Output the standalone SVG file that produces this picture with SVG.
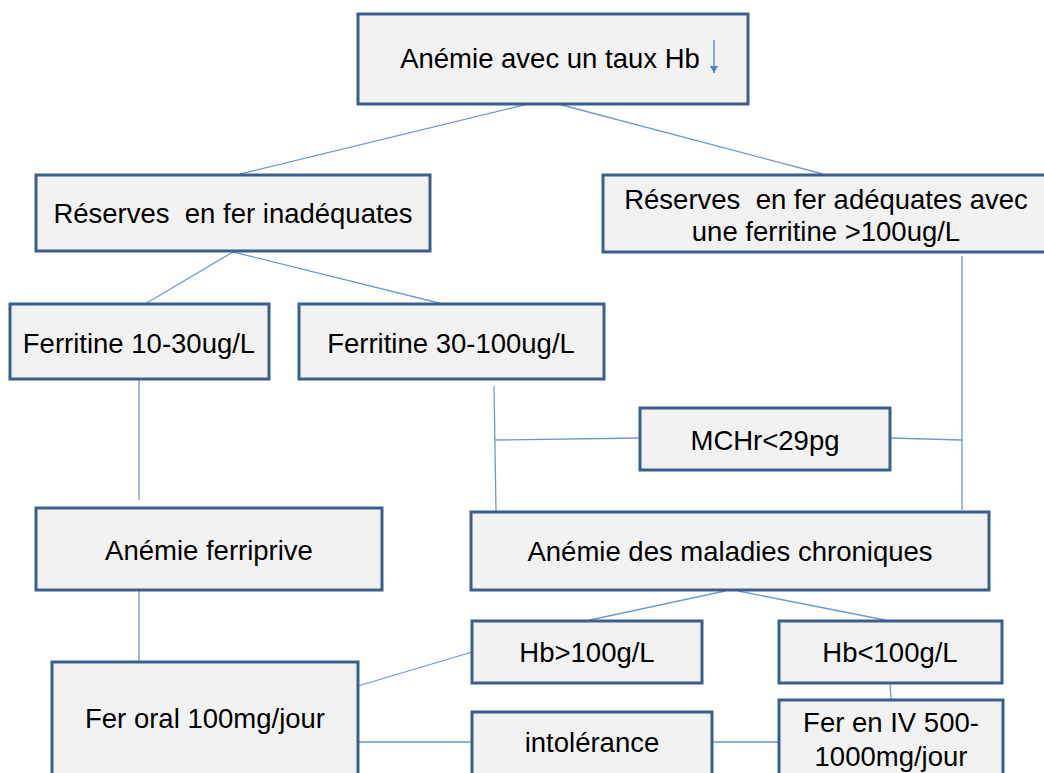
<svg xmlns="http://www.w3.org/2000/svg" width="1044" height="773" viewBox="0 0 1044 773">
<style>
.box{fill:#f2f2f2;stroke:#3b5f8d;stroke-width:3}
.t{font-family:"Liberation Sans",Arial,sans-serif;font-size:27.5px;fill:#000;text-anchor:middle;white-space:pre}
.c{stroke:#7298c9;stroke-width:1.3;fill:none}
</style>
<defs>
<marker id="ah" markerWidth="8" markerHeight="8" refX="7" refY="4" orient="auto" markerUnits="userSpaceOnUse">
<path d="M0,0 L7,4 L0,8 Z" fill="#4f7fc0"/>
</marker>
</defs>
<rect width="1044" height="773" fill="#fff"/>
<g id="connectors">
<line class="c" x1="528" y1="104" x2="240" y2="174"/>
<line class="c" x1="558" y1="104" x2="823" y2="174"/>
<line class="c" x1="233" y1="252" x2="145" y2="304"/>
<line class="c" x1="233" y1="252" x2="443" y2="304"/>
<line class="c" x1="139" y1="379" x2="139" y2="500"/>
<line class="c" x1="494" y1="386" x2="496" y2="511"/>
<line class="c" x1="495" y1="440" x2="640" y2="438"/>
<line class="c" x1="890" y1="438" x2="962" y2="440"/>
<line class="c" x1="962" y1="256" x2="962" y2="510"/>
<line class="c" x1="139" y1="590" x2="139" y2="662"/>
<line class="c" x1="725" y1="591" x2="590" y2="620"/>
<line class="c" x1="738" y1="591" x2="885" y2="620"/>
<line class="c" x1="890" y1="683" x2="891" y2="700"/>
<line class="c" x1="358" y1="686" x2="472" y2="652"/>
<line class="c" x1="358" y1="742" x2="472" y2="742"/>
<line class="c" x1="712" y1="742" x2="779" y2="742"/>
</g>
<g id="n-top">
<rect class="box" x="358" y="14" width="390" height="90"/>
<text class="t" x="550" y="68">Anémie avec un taux Hb</text>
<line x1="714" y1="40" x2="714" y2="73" stroke="#4f7fc0" stroke-width="1.3" marker-end="url(#ah)"/>
</g>
<g id="n-inad">
<rect class="box" x="36" y="175" width="394" height="76"/>
<text class="t" x="233" y="223" xml:space="preserve">Réserves  en fer inadéquates</text>
</g>
<g id="n-adeq">
<rect class="box" x="603" y="175" width="443" height="77"/>
<text class="t" x="826" y="209" xml:space="preserve">Réserves  en fer adéquates avec</text>
<text class="t" x="826" y="241">une ferritine &gt;100ug/L</text>
</g>
<g id="n-f1030">
<rect class="box" x="10" y="304" width="259" height="75"/>
<text class="t" x="139" y="353">Ferritine 10-30ug/L</text>
</g>
<g id="n-f30100">
<rect class="box" x="299" y="304" width="305" height="75"/>
<text class="t" x="451" y="353">Ferritine 30-100ug/L</text>
</g>
<g id="n-mchr">
<rect class="box" x="640" y="408" width="250" height="62"/>
<text class="t" x="765" y="450">MCHr&lt;29pg</text>
</g>
<g id="n-ferriprive">
<rect class="box" x="36" y="508" width="346" height="82"/>
<text class="t" x="209" y="560">Anémie ferriprive</text>
</g>
<g id="n-chron">
<rect class="box" x="471" y="512" width="518" height="78"/>
<text class="t" x="730" y="561">Anémie des maladies chroniques</text>
</g>
<g id="n-hbsup">
<rect class="box" x="472" y="621" width="230" height="62"/>
<text class="t" x="587" y="662">Hb&gt;100g/L</text>
</g>
<g id="n-hbinf">
<rect class="box" x="779" y="621" width="223" height="62"/>
<text class="t" x="890" y="662">Hb&lt;100g/L</text>
</g>
<g id="n-feroral">
<rect class="box" x="52" y="662" width="306" height="116"/>
<text class="t" x="205" y="728">Fer oral 100mg/jour</text>
</g>
<g id="n-intol">
<rect class="box" x="472" y="712" width="240" height="66"/>
<text class="t" x="592" y="752">intolérance</text>
</g>
<g id="n-feriv">
<rect class="box" x="779" y="700" width="224" height="78"/>
<text class="t" x="891" y="732">Fer en IV 500-</text>
<text class="t" x="891" y="766">1000mg/jour</text>
</g>
</svg>
